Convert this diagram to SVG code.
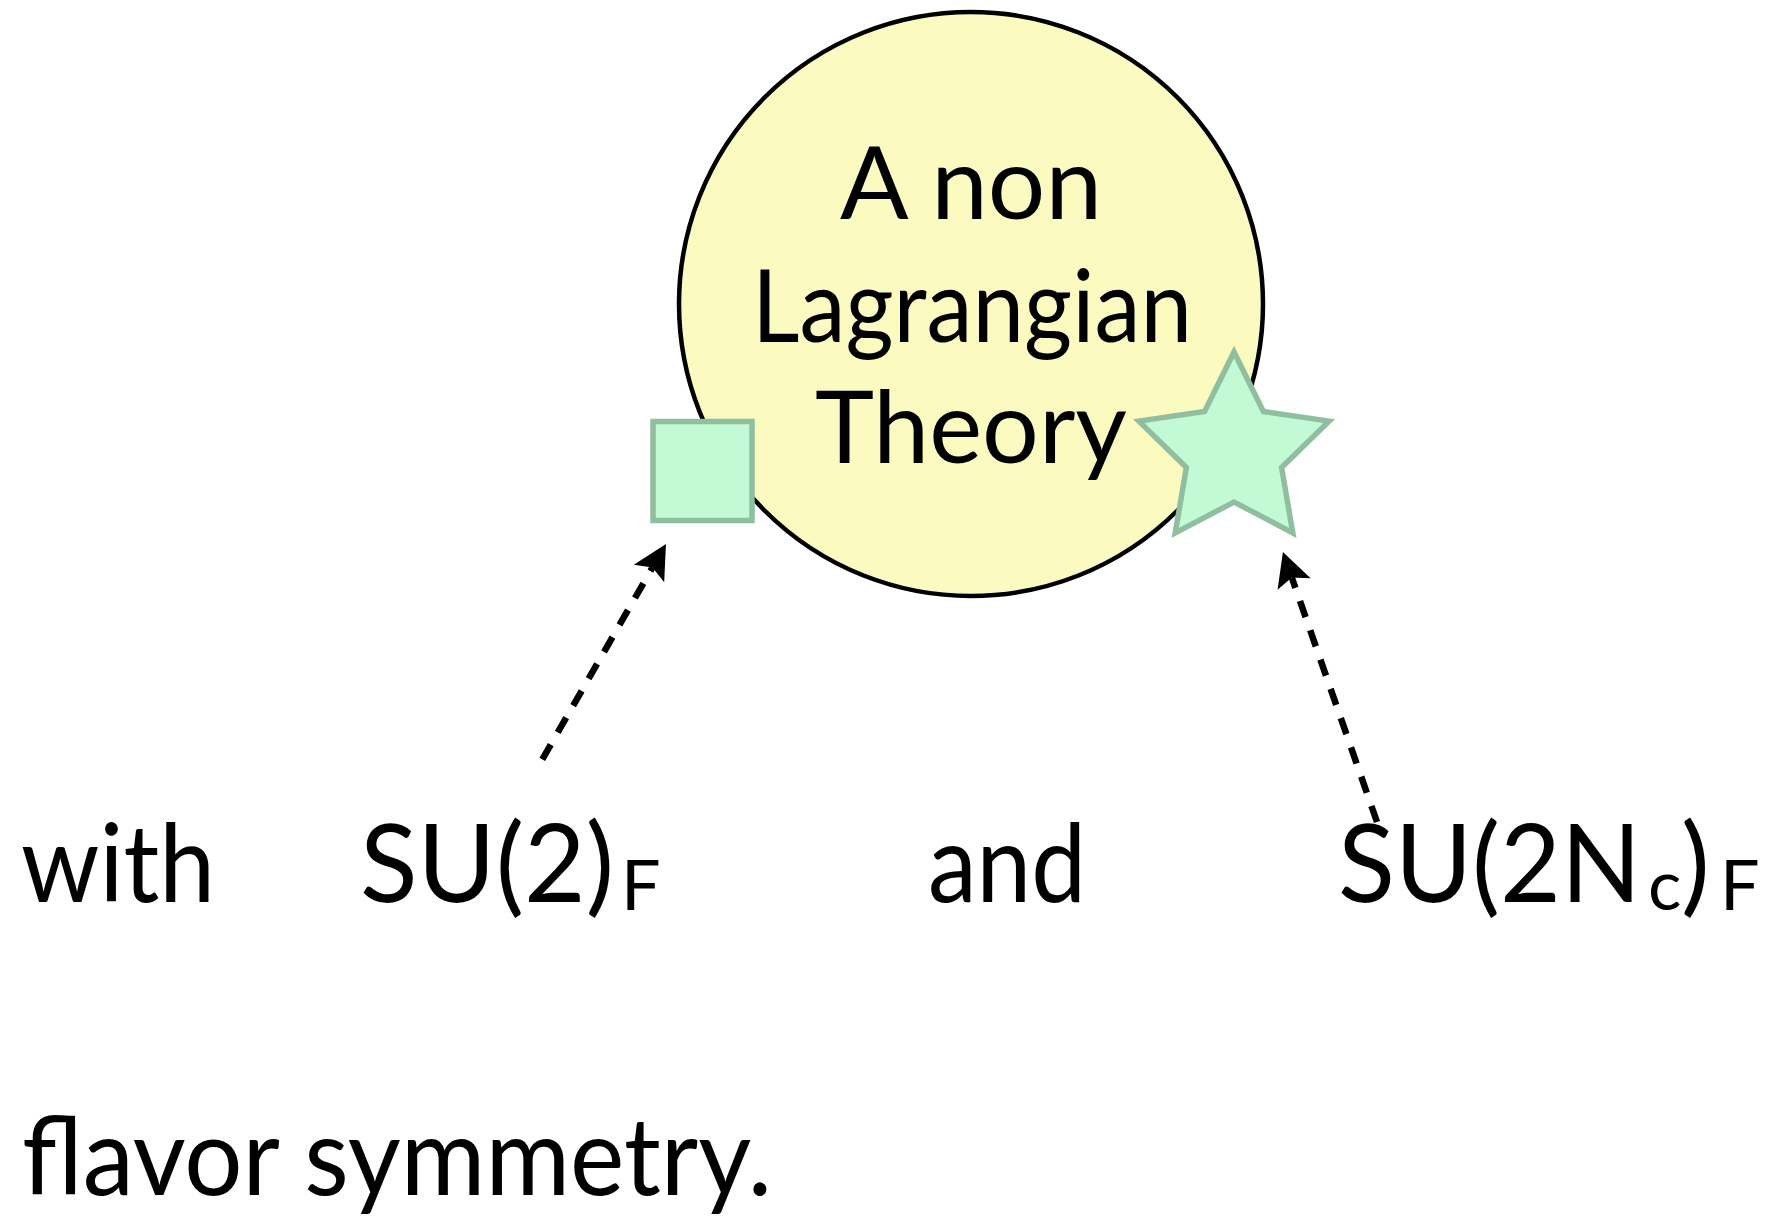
<svg xmlns="http://www.w3.org/2000/svg" width="1765" height="1219" viewBox="0 0 1765 1219">
<style>
  .t { font-family: Lato, "Open Sans", "Liberation Sans", sans-serif; fill: #000; }
  .big { font-size: 108px; }
  .node { font-size: 100px; }
  .sub { font-size: 70px; }
  .sym { fill: #c2fad6; stroke: #8fbf9f; stroke-width: 5.5; }
  .conn { fill: none; stroke: #000; stroke-width: 6.5; stroke-dasharray: 17 14; }
</style>
<defs>
  <marker id="head" markerUnits="userSpaceOnUse" markerWidth="40" markerHeight="40" viewBox="-10 -20 40 40" refX="0" refY="0" orient="auto">
    <path d="M27,0 L-7,-17.5 L0,0 L-7,17.5 Z" fill="#000"/>
  </marker>
</defs>
<rect width="1765" height="1219" fill="#fff"/>

<g id="theory">
  <circle cx="971" cy="304" r="292" fill="#fbfbbf" stroke="#000" stroke-width="4.5"/>
  <text class="t node" x="971" y="219" text-anchor="middle" textLength="262" lengthAdjust="spacingAndGlyphs">A non</text>
  <text class="t node" x="972" y="342" text-anchor="middle" textLength="440" lengthAdjust="spacingAndGlyphs">Lagrangian</text>
  <text class="t node" x="971" y="463" text-anchor="middle" textLength="312" lengthAdjust="spacingAndGlyphs">Theory</text>
</g>

<g id="square">
  <rect class="sym" x="653" y="421.5" width="99" height="99"/>
</g>

<g id="star">
  <polygon class="sym" points="1234,352 1263.4,411.5 1329.1,421.1 1281.6,467.5 1292.8,532.9 1234,502 1175.2,532.9 1186.4,467.5 1138.9,421.1 1204.6,411.5"/>
</g>

<g id="connectors">
  <path class="conn" d="M542.3,759.3 L652.5,567.4" marker-end="url(#head)"/>
  <path class="conn" d="M1377,822 L1291.8,577.5" marker-end="url(#head)"/>
</g>

<g id="label-with">
  <text class="t big" x="21" y="902" textLength="194" lengthAdjust="spacingAndGlyphs">with</text>
</g>
<g id="label-su2">
  <text class="t big" x="360" y="902" textLength="254" lengthAdjust="spacingAndGlyphs">SU(2)</text>
  <text class="t sub" x="621" y="910">F</text>
</g>
<g id="label-and">
  <text class="t big" x="928" y="902" textLength="158" lengthAdjust="spacingAndGlyphs">and</text>
</g>
<g id="label-su2nc">
  <text class="t big" x="1338" y="902" textLength="303" lengthAdjust="spacingAndGlyphs">SU(2N</text>
  <text class="t sub" x="1648" y="910">c</text>
  <text class="t big" x="1681" y="902">)</text>
  <text class="t sub" x="1720" y="910">F</text>
</g>
<g id="label-flavor">
  <text class="t big" x="22" y="1195" textLength="750" lengthAdjust="spacingAndGlyphs">flavor symmetry.</text>
</g>
</svg>
